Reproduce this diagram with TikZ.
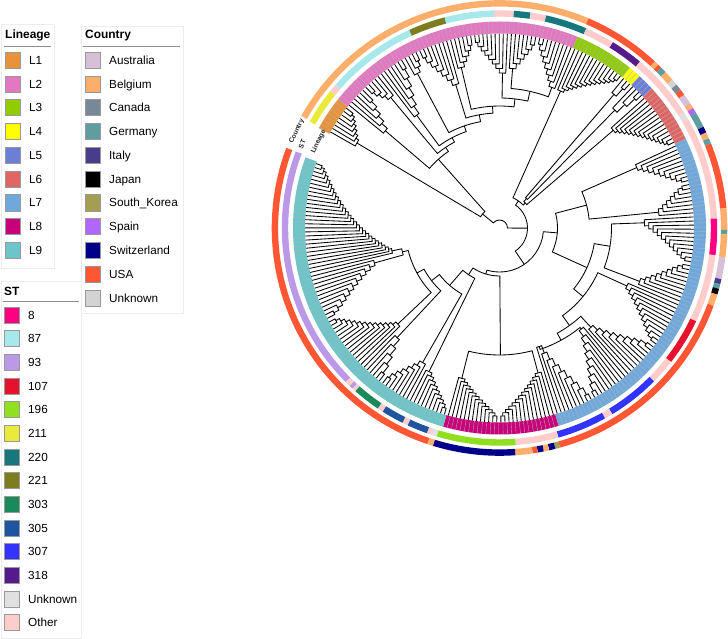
\documentclass[tikz,border=0pt]{standalone}
\usepackage{fontspec}
\setmainfont{Liberation Sans}
% lineage colours
\definecolor{lA}{HTML}{E8923A}
\definecolor{lB}{HTML}{E377C2}
\definecolor{lC}{HTML}{8FCC00}
\definecolor{lD}{HTML}{FFFF00}
\definecolor{lE}{HTML}{6B7FD7}
\definecolor{lF}{HTML}{E06666}
\definecolor{lG}{HTML}{6FA8DC}
\definecolor{lH}{HTML}{C8007A}
\definecolor{lI}{HTML}{6CC5C8}
% country colours
\definecolor{cAus}{HTML}{D8BFD8}
\definecolor{cBel}{HTML}{FDAE6B}
\definecolor{cCan}{HTML}{778899}
\definecolor{cGer}{HTML}{5F9EA0}
\definecolor{cIta}{HTML}{483D8B}
\definecolor{cJap}{HTML}{000000}
\definecolor{cKor}{HTML}{A39E52}
\definecolor{cSpa}{HTML}{B266FF}
\definecolor{cSwi}{HTML}{00008B}
\definecolor{cUSA}{HTML}{FF5733}
\definecolor{cUnk}{HTML}{D3D3D3}
% ST colours
\definecolor{sA}{HTML}{FF0080}
\definecolor{sB}{HTML}{A6E8EC}
\definecolor{sC}{HTML}{BC98E8}
\definecolor{sD}{HTML}{E8112D}
\definecolor{sE}{HTML}{90E020}
\definecolor{sF}{HTML}{EAEA3A}
\definecolor{sG}{HTML}{15787F}
\definecolor{sH}{HTML}{7D7D20}
\definecolor{sI}{HTML}{1A8A5A}
\definecolor{sJ}{HTML}{1F55A0}
\definecolor{sK}{HTML}{3333FF}
\definecolor{sL}{HTML}{551A8B}
\definecolor{sUnk}{HTML}{E0E0E0}
\definecolor{sOth}{HTML}{FFCCCC}

\tikzset{
  tr/.style={line width=0.85bp,black},
  legbox/.style={draw=black!40,line width=0.6bp},
  legtxt/.style={font=\fontsize{11.8}{14}\selectfont,inner sep=0pt,anchor=base west},
  legttl/.style={font=\bfseries\fontsize{12}{14}\selectfont,inner sep=0pt,anchor=base west},
  panel/.style={draw=black!7,line width=0.7bp,fill=white},
  ringlab/.style={font=\bfseries\fontsize{6.8}{7}\selectfont,inner sep=0pt,text=black!85},
  sepl/.style={line width=0.35bp,black!30},
}

\newcommand\RL{194.5}
\newcommand\mkleaves{%
  \foreach \i in {0,...,290}{%
    \pgfmathsetmacro\cmt{151-(\i+0.5)*1.206}%
    \expandafter\xdef\csname A@\i\endcsname{\cmt}%
    \expandafter\xdef\csname R@\i\endcsname{\RL}%
  }}
% comb of leaves: name, first index, n, outer node radius, inner node radius, dir
\newcommand\comb[6]{%
  \pgfmathtruncatemacro\cnm{#3-1}%
  \pgfmathtruncatemacro\cfi{(#6==1) ? (#2+#3-1) : (#2)}%
  \xdef\ccur{\csname A@\cfi\endcsname}\xdef\crad{\RL}%
  \foreach \j in {1,...,\cnm}{%
    \pgfmathtruncatemacro\idx{(#6==1) ? (#2+#3-1-\j) : (#2+\j)}%
    \pgfmathsetmacro\nrad{#4-(\j-1)*(#4-#5)/max(#3-2,1)}%
    \edef\ia{\csname A@\idx\endcsname}%
    \draw[tr] (\ia:\RL) -- (\ia:\nrad) arc[start angle=\ia,end angle=\ccur,radius=\nrad] -- (\ccur:\crad);
    \pgfmathsetmacro\cmt{(\ia+\ccur)/2}\xdef\ccur{\cmt}\xdef\crad{\nrad}%
  }%
  \expandafter\xdef\csname A@#1\endcsname{\ccur}%
  \expandafter\xdef\csname R@#1\endcsname{\crad}%
}
% ladder of clades: name, list item/node radius (first radius ignored)
\newcommand\ladder[2]{%
  \gdef\lfst{1}%
  \foreach \itm/\nrad in {#2}{%
    \edef\ia{\csname A@\itm\endcsname}\edef\ir{\csname R@\itm\endcsname}%
    \ifnum\lfst=1
      \xdef\ccur{\ia}\xdef\crad{\ir}\gdef\lfst{0}%
    \else
      \draw[tr] (\ia:\ir) -- (\ia:\nrad) arc[start angle=\ia,end angle=\ccur,radius=\nrad] -- (\ccur:\crad);
      \pgfmathsetmacro\cmt{(\ia+\ccur)/2}\xdef\ccur{\cmt}\xdef\crad{\nrad}%
    \fi
  }%
  \expandafter\xdef\csname A@#1\endcsname{\ccur}%
  \expandafter\xdef\csname R@#1\endcsname{\crad}%
}
\newcommand\cseg[3]{\draw[line width=6.4bp,#3] (#1:224.6) arc[start angle=#1,end angle=#2,radius=224.6];}
\newcommand\sseg[3]{\draw[line width=6.4bp,#3] (#1:214.5) arc[start angle=#1,end angle=#2,radius=214.5];}
\newcommand\lseg[3]{\fill[#3] (#1:194.5) arc[start angle=#1,end angle=#2,radius=194.5] -- (#2:206.5) arc[start angle=#2,end angle=#1,radius=206.5] -- cycle;}
\newcommand\legitem[5]{%
  \draw[legbox,fill=#4] (#2,{-#3+8}) rectangle ++(15.5,-16);
  \node[legtxt] (#1) at ({#2+24},{-#3-4.2}) {#5};}

\begin{document}
\begin{tikzpicture}[x=1bp,y=1bp]
\useasboundingbox (0,0) rectangle (728,-639);
\fill[white] (0,0) rectangle (728,-639);

% ---------- legends ----------
\draw[panel] (1.5,-24.5) rectangle (54,-268);
\draw[panel] (81.5,-26) rectangle (183,-313);
\draw[panel] (1.5,-281) rectangle (81,-638);

\node[legttl] (tL) at (5,-39) {Lineage};
\draw[black!45,line width=0.8bp] (4,-46.5) -- (51,-46.5);
\node[legttl] (tC) at (85,-39) {Country};
\draw[black!45,line width=0.8bp] (83,-46.5) -- (180,-46.5);
\node[legttl] (tS) at (4,-295) {ST};
\draw[black!45,line width=0.8bp] (3,-301) -- (79,-301);

\legitem{g1}{5}{60.3}{lA}{L1}
\legitem{g2}{5}{84.0}{lB}{L2}
\legitem{g3}{5}{107.8}{lC}{L3}
\legitem{g4}{5}{131.5}{lD}{L4}
\legitem{g5}{5}{155.3}{lE}{L5}
\legitem{g6}{5}{179.0}{lF}{L6}
\legitem{g7}{5}{202.8}{lG}{L7}
\legitem{g8}{5}{226.5}{lH}{L8}
\legitem{g9}{5}{250.3}{lI}{L9}

\legitem{k1}{85}{60.3}{cAus}{Australia}
\legitem{k2}{85}{84.0}{cBel}{Belgium}
\legitem{k3}{85}{107.8}{cCan}{Canada}
\legitem{k4}{85}{131.5}{cGer}{Germany}
\legitem{k5}{85}{155.3}{cIta}{Italy}
\legitem{k6}{85}{179.0}{cJap}{Japan}
\legitem{k7}{85}{202.8}{cKor}{South\_Korea}
\legitem{k8}{85}{226.5}{cSpa}{Spain}
\legitem{k9}{85}{250.3}{cSwi}{Switzerland}
\legitem{k10}{85}{274.0}{cUSA}{USA}
\legitem{k11}{85}{297.8}{cUnk}{Unknown}

\legitem{t1}{4}{315.0}{sA}{8}
\legitem{t2}{4}{338.7}{sB}{87}
\legitem{t3}{4}{362.3}{sC}{93}
\legitem{t4}{4}{386.0}{sD}{107}
\legitem{t5}{4}{409.6}{sE}{196}
\legitem{t6}{4}{433.3}{sF}{211}
\legitem{t7}{4}{456.9}{sG}{220}
\legitem{t8}{4}{480.6}{sH}{221}
\legitem{t9}{4}{504.2}{sI}{303}
\legitem{t10}{4}{527.9}{sJ}{305}
\legitem{t11}{4}{551.5}{sK}{307}
\legitem{t12}{4}{575.2}{sL}{318}
\legitem{t13}{4}{598.8}{sUnk}{Unknown}
\legitem{t14}{4}{622.5}{sOth}{Other}

% ---------- circular tree ----------
\begin{scope}[shift={(499.5,-228)}]
\mkleaves
% L1
\comb{cA}{0}{8}{186}{166}{1}
% L2
\comb{b1}{8}{6}{180}{150}{1}
\comb{b2}{14}{5}{185}{170}{-1}
\comb{b3}{19}{7}{185}{140}{1}
\comb{b4}{26}{4}{186}{175}{1}
\comb{b5}{30}{8}{186}{150}{-1}
\comb{b6}{38}{6}{185}{165}{1}
\comb{b7}{44}{9}{187}{155}{-1}
\comb{b8}{53}{7}{186}{160}{1}
\comb{b9}{60}{9}{188}{150}{-1}
\ladder{cB}{b9/0,b8/140,b7/130,b6/122,b5/115,b4/108,b3/102,b2/97,b1/92}
% L3 - L6
\comb{cC}{69}{14}{188}{150}{1}
\comb{cD}{83}{3}{186}{176}{1}
\comb{cE}{86}{4}{187}{165}{1}
\comb{cF}{90}{14}{188}{150}{1}
\ladder{cDE}{cD/0,cE/40}
\ladder{cDEF}{cDE/0,cF/36}
\ladder{cCF}{cDEF/0,cC/33}
% L7
\comb{q1}{104}{10}{188}{150}{1}
\comb{q2}{114}{8}{187}{160}{-1}
\comb{q3}{122}{12}{188}{145}{1}
\comb{q4}{134}{10}{187}{150}{-1}
\comb{q5}{144}{12}{188}{140}{1}
\comb{q6}{156}{10}{187}{135}{-1}
\comb{q7}{166}{10}{188}{130}{1}
\comb{q8}{176}{10}{188}{125}{-1}
\ladder{q12}{q1/0,q2/90}
\ladder{q34}{q3/0,q4/112}
\ladder{q58}{q8/0,q7/128,q6/120,q5/108}
\ladder{cG}{q58/0,q34/96,q12/58}
% L8
\comb{h1}{186}{14}{188}{150}{1}
\comb{h2}{200}{13}{188}{155}{-1}
\ladder{cH}{h1/0,h2/127}
% L9
\comb{i1}{213}{10}{188}{160}{-1}
\comb{i2}{223}{8}{186}{155}{1}
\comb{i3}{231}{6}{186}{150}{-1}
\comb{i4}{237}{14}{188}{140}{1}
\comb{i5}{251}{12}{186}{130}{-1}
\comb{i6}{263}{28}{188}{110}{1}
\ladder{cI}{i6/0,i5/100,i4/94,i3/86,i2/76,i1/56}
% backbone
\ladder{rt}{cI/0,cH/48,cG/44,cCF/28}
\ladder{cL}{cA/0,cB/22}
\ladder{root}{cL/0,rt/8}

% ---------- lineage ring ----------
\lseg{151}{141.352}{lA}
\lseg{141.352}{67.786}{lB}
\lseg{67.786}{50.902}{lC}
\lseg{50.902}{47.284}{lD}
\lseg{47.284}{42.46}{lE}
\lseg{42.46}{25.576}{lF}
\lseg{25.576}{-73.316}{lG}
\lseg{-73.316}{-105.878}{lH}
\lseg{-105.878}{-199.946}{lI}
\foreach \b in {0,...,291}{\pgfmathsetmacro\ang{151-1.206*\b}\draw[sepl] (\ang:194.5) -- (\ang:206.5);}

% ---------- ST ring ----------
\sseg{150.7}{141}{sF}
\sseg{141}{138.8}{sOth}
\sseg{138.8}{114.5}{sB}
\sseg{114.5}{104.6}{sH}
\sseg{104.6}{91.5}{sB}
\sseg{91.5}{86.2}{sOth}
\sseg{86.2}{81.8}{sG}
\sseg{81.8}{77.6}{sOth}
\sseg{77.6}{66.5}{sG}
\sseg{66.5}{58.6}{sOth}
\sseg{58.6}{49.8}{sL}
\sseg{49.8}{32}{sOth}
\sseg{32}{30}{sUnk}
\sseg{30}{2.5}{sOth}
\sseg{2.5}{-7.2}{sA}
\sseg{-7.2}{-25.4}{sOth}
\sseg{-25.4}{-38}{sD}
\sseg{-38}{-44.8}{sOth}
\sseg{-44.8}{-58.8}{sK}
\sseg{-58.8}{-61}{sOth}
\sseg{-61}{-74.3}{sK}
\sseg{-74.3}{-85.7}{sOth}
\sseg{-85.7}{-106.8}{sE}
\sseg{-106.8}{-108.5}{sUnk}
\sseg{-108.5}{-109.5}{sOth}
\sseg{-109.5}{-115}{sJ}
\sseg{-115}{-116.5}{sOth}
\sseg{-116.5}{-122.5}{sJ}
\sseg{-122.5}{-124}{sOth}
\sseg{-124}{-131.5}{sI}
\sseg{-131.5}{-132.5}{sOth}
\sseg{-132.5}{-133.5}{sC}
\sseg{-133.5}{-135}{sOth}
\sseg{-135}{-200.6}{sC}

% ---------- country ring ----------
\cseg{150.5}{67}{cBel}
\cseg{67}{47}{cUSA}
\cseg{47}{45.8}{cBel}
\cseg{45.8}{44.8}{cUSA}
\cseg{44.8}{43.2}{cGer}
\cseg{43.2}{40.6}{cBel}
\cseg{40.6}{39}{cUnk}
\cseg{39}{37.4}{cCan}
\cseg{37.4}{35.8}{cUSA}
\cseg{35.8}{33.2}{cAus}
\cseg{33.2}{31.8}{cBel}
\cseg{31.8}{30.4}{cSpa}
\cseg{30.4}{26.4}{cGer}
\cseg{26.4}{24.8}{cSwi}
\cseg{24.8}{23.2}{cBel}
\cseg{23.2}{21.8}{cGer}
\cseg{21.8}{5}{cUSA}
\cseg{5}{-0.5}{cBel}
\cseg{-0.5}{-1.5}{cGer}
\cseg{-1.5}{-7.4}{cBel}
\cseg{-7.4}{-13}{cAus}
\cseg{-13}{-14.3}{cIta}
\cseg{-14.3}{-15.5}{cGer}
\cseg{-15.5}{-17}{cJap}
\cseg{-17}{-20}{cBel}
\cseg{-20}{-74.6}{cUSA}
\cseg{-74.6}{-75.8}{cKor}
\cseg{-75.8}{-77.4}{cSwi}
\cseg{-77.4}{-78.8}{cBel}
\cseg{-78.8}{-80.3}{cSwi}
\cseg{-80.3}{-81.6}{cUSA}
\cseg{-81.6}{-86}{cBel}
\cseg{-86}{-107}{cSwi}
\cseg{-107}{-108.5}{cBel}
\cseg{-108.5}{-200.6}{cUSA}

% ring labels
\node[ringlab,rotate=64.5] (labC) at (154.5:224.6) {Country};
\node[ringlab,rotate=67] (labS) at (157:214.5) {ST};
\node[ringlab,rotate=64.5] (labL) at (154.5:200.5) {Lineage};
\end{scope}
\end{tikzpicture}
\end{document}
